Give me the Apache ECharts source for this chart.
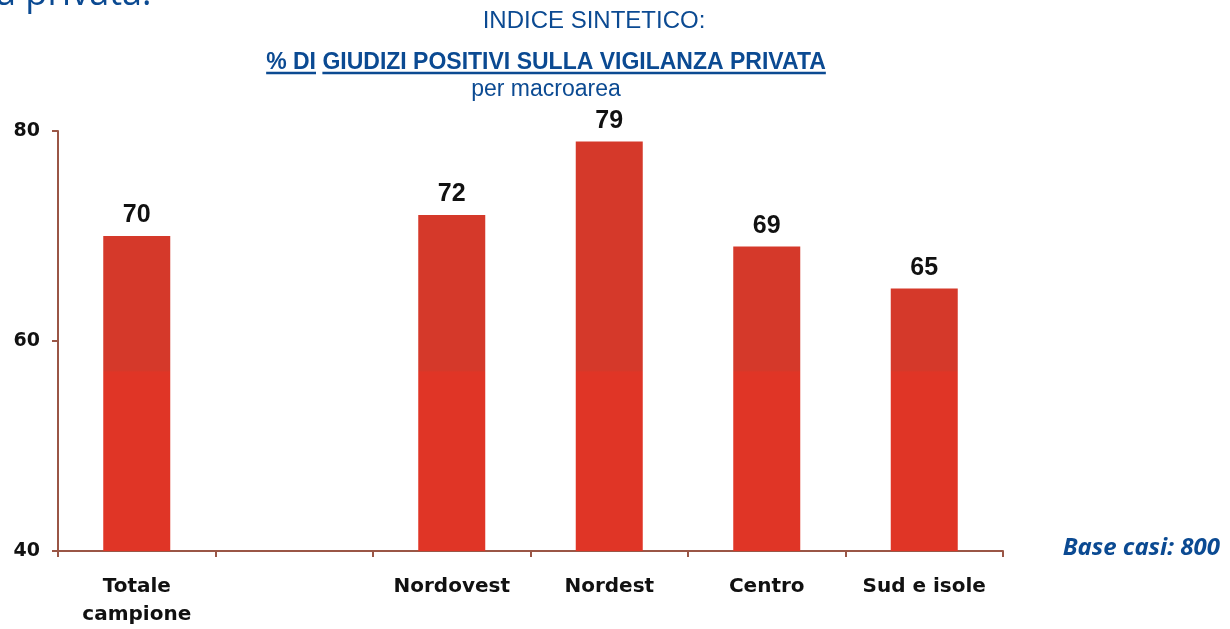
<!DOCTYPE html>
<html>
<head>
<meta charset="utf-8">
<script src="https://cdn.jsdelivr.net/npm/echarts@6/dist/echarts.min.js"></script>
<style>
  html, body { margin: 0; padding: 0; background: #ffffff; }
  #main { width: 1230px; height: 629px; }
</style>
</head>
<body>
<div id="main"></div>
<script>
// categorie (la seconda è vuota: spazio tra totale e macroaree)
const categories = ["Totale\ncampione", "", "Nordovest", "Nordest", "Centro", "Sud e isole"];
// % giudizi positivi
const values = [70, "-", 72, 79, 69, 65];
const yTicks = [40, 60, 80];

const blue = "#0b4a92";
const axisColor = "#9a5646";

// titolo sottolineato: misuro il testo per posizionare le due linee
const titleText = "% DI GIUDIZI POSITIVI SULLA VIGILANZA PRIVATA";
const titleFont = "bold 23px 'Liberation Sans'";
const titleCenter = 546;
const titleTop = 51;
const ctx = document.createElement("canvas").getContext("2d");
ctx.font = titleFont;
const wAll = ctx.measureText(titleText).width;
const wFirst = ctx.measureText("% DI").width;
const wFirstSp = ctx.measureText("% DI ").width;
const tLeft = titleCenter - wAll / 2;
const uY = titleTop + 22;

const chart = echarts.init(document.getElementById("main"));
chart.setOption({
  backgroundColor: "#ffffff",
  animation: false,
  grid: {
    left: 58,
    right: 227,
    top: 131,
    bottom: 75,
  },
  title: [
    {
      text: "INDICE SINTETICO:",
      left: 594,
      top: 9,
      padding: 0,
      textAlign: "center",
      textStyle: { fontFamily: "Liberation Sans", fontSize: 24, fontWeight: "normal", color: blue },
    },
    {
      text: titleText,
      left: titleCenter,
      top: titleTop,
      padding: 0,
      textAlign: "center",
      textStyle: { fontFamily: "Liberation Sans", fontSize: 23, fontWeight: "bold", color: blue },
    },
    {
      text: "per macroarea",
      left: 546,
      top: 78,
      padding: 0,
      textAlign: "center",
      textStyle: { fontFamily: "Liberation Sans", fontSize: 23, fontWeight: "normal", color: blue },
    },
  ],
  graphic: [
    // titolo della slide tagliato in alto
    {
      type: "text",
      left: -4,
      top: -23,
      style: { text: "à privata.", font: "36px 'Open Sans'", fill: blue },
    },
    // sottolineatura del titolo
    {
      type: "line",
      shape: { x1: tLeft, y1: uY, x2: tLeft + wFirst, y2: uY },
      style: { stroke: blue, lineWidth: 2.5 },
    },
    {
      type: "line",
      shape: { x1: tLeft + wFirstSp, y1: uY, x2: tLeft + wAll, y2: uY },
      style: { stroke: blue, lineWidth: 2.5 },
    },
    {
      type: "text",
      right: 10,
      top: 536,
      style: { text: "Base casi: 800", font: "italic bold 24px 'Noto Sans'", fill: blue },
    },
  ],
  xAxis: {
    type: "category",
    data: categories,
    axisLine: { lineStyle: { color: axisColor, width: 2 } },
    axisTick: { show: true, length: 6, lineStyle: { color: axisColor, width: 2 } },
    axisLabel: {
      interval: 0,
      margin: 22,
      color: "#111",
      fontFamily: "DejaVu Sans",
      fontWeight: "bold",
      fontSize: 20,
      lineHeight: 28,
    },
  },
  yAxis: {
    type: "value",
    min: 40,
    max: 80,
    interval: 20,
    splitLine: { show: false },
    axisLine: { show: true, lineStyle: { color: axisColor, width: 2 } },
    axisTick: { show: true, length: 6, lineStyle: { color: axisColor, width: 2 } },
    axisLabel: {
      margin: 18,
      color: "#111",
      fontFamily: "DejaVu Sans",
      fontWeight: "bold",
      fontSize: 19,
      formatter: function (v) {
        return yTicks.indexOf(v) >= 0 ? v : "";
      },
    },
  },
  series: [
    {
      type: "bar",
      data: values,
      barWidth: 67,
      itemStyle: {
        color: new echarts.graphic.LinearGradient(0, 0, 0, 629, [
          { offset: 0, color: "#d5392a" },
          { offset: 0.59, color: "#d5392a" },
          { offset: 0.591, color: "#e03526" },
          { offset: 1, color: "#e03526" },
        ], true),
      },
      label: {
        show: true,
        position: "top",
        distance: 8,
        color: "#111",
        fontFamily: "Liberation Sans",
        fontWeight: "bold",
        fontSize: 25,
      },
    },
  ],
});
</script>
</body>
</html>
